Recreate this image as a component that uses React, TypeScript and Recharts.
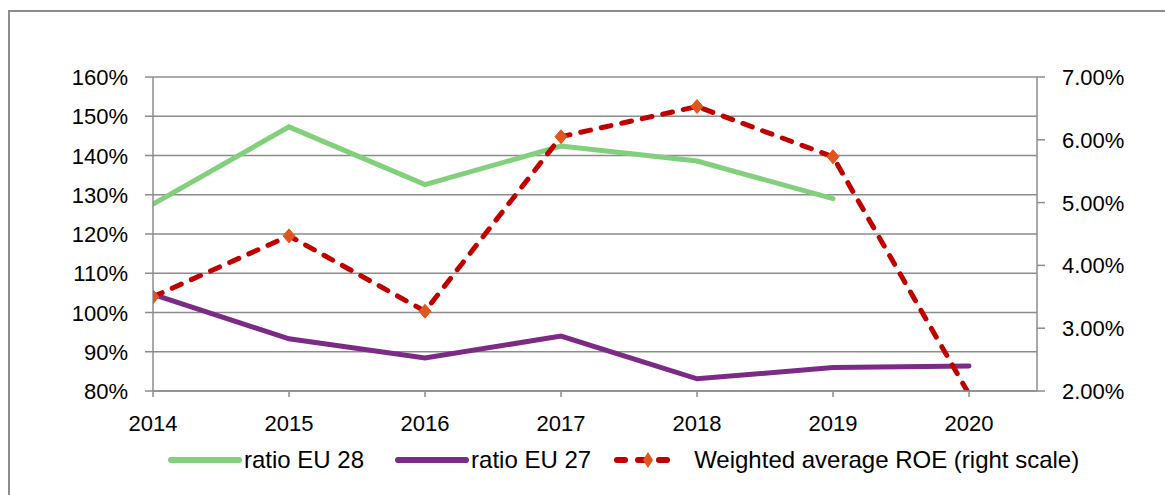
import React from 'react';
import { LineChart, Line, XAxis, YAxis, CartesianGrid } from 'recharts';

const years = [2014, 2015, 2016, 2017, 2018, 2019, 2020];
const ratioEU28 = [127.6, 147.3, 132.6, 142.4, 138.6, 129.0, null];
const ratioEU27 = [104.6, 93.3, 88.4, 94.0, 83.1, 86.0, 86.4];
const roe = [3.5, 4.47, 3.27, 6.05, 6.53, 5.73, 1.95];

const leftTicks = [80, 90, 100, 110, 120, 130, 140, 150, 160];
const rightTicks = [2, 3, 4, 5, 6, 7];

const data = years.map((year, i) => ({
  year,
  eu28: ratioEU28[i],
  eu27: ratioEU27[i],
  roe: roe[i],
}));

const GREEN = '#82CF7C';
const PURPLE = '#7B2A86';
const RED = '#C00000';
const ORANGE = '#E0561E';
const AXIS = '#8C8C8C';
const FONT = '"Liberation Sans", Arial, sans-serif';

const Diamond = (props: any) => {
  const { cx, cy, payload } = props;
  if (payload.roe < 2 || cx == null || cy == null) return null;
  return (
    <polygon
      points={`${cx},${cy - 7} ${cx + 6},${cy} ${cx},${cy + 7} ${cx - 6},${cy}`}
      fill={ORANGE}
      stroke={ORANGE}
      strokeWidth={1}
    />
  );
};

// custom tick so the font size is really applied
const makeTick = (anchor: 'start' | 'middle' | 'end', fmt: (v: number) => string, dy: number) => (props: any) => {
  const { x, y, payload } = props;
  return (
    <text x={x} y={y} dy={dy} textAnchor={anchor} fontSize={22} fontFamily={FONT} fill="#000">
      {fmt(payload.value)}
    </text>
  );
};

const XTick = makeTick('middle', (v) => String(v), 30);
const LeftTick = makeTick('end', (v) => `${v}%`, 8);
const RightTick = makeTick('start', (v) => `${v.toFixed(2)}%`, 8);

const LegendRow = () => (
  <div
    style={{
      position: 'absolute',
      top: 446,
      left: 167,
      display: 'flex',
      alignItems: 'center',
      fontFamily: FONT,
      fontSize: 24,
      color: '#000',
      whiteSpace: 'nowrap',
    }}
  >
    <svg width={76} height={10}>
      <line x1={4} y1={5} x2={72} y2={5} stroke={GREEN} strokeWidth={6} strokeLinecap="round" />
    </svg>
    <span style={{ marginLeft: 1, marginRight: 30 }}>ratio EU 28</span>
    <svg width={76} height={10}>
      <line x1={4} y1={5} x2={72} y2={5} stroke={PURPLE} strokeWidth={6} strokeLinecap="round" />
    </svg>
    <span style={{ marginLeft: 1, marginRight: 22 }}>ratio EU 27</span>
    <svg width={70} height={18}>
      <line x1={4} y1={9} x2={66} y2={9} stroke={RED} strokeWidth={6} strokeDasharray="8 13" strokeLinecap="round" />
      <polygon points="35,1 40,9 35,17 30,9" fill={ORANGE} />
    </svg>
    <span style={{ marginLeft: 11 }}>Weighted average ROE (right scale)</span>
  </div>
);

export default function App() {
  return (
    <div style={{ position: 'absolute', left: 0, top: 0, width: 1165, height: 495, background: '#fff', overflow: 'hidden' }}>
      <style>{`body{margin:0}`}</style>
      <div
        style={{
          position: 'absolute',
          left: 8,
          top: 10,
          width: 1200,
          height: 600,
          borderLeft: '2px solid #8C8C8C',
          borderTop: '2px solid #8C8C8C',
          boxSizing: 'border-box',
        }}
      />
      <div style={{ position: 'absolute', left: 0, top: 0 }}>
        <LineChart width={1165} height={495} data={data} margin={{ top: 77, right: 48, bottom: 74, left: 73 }}>
          <CartesianGrid vertical={false} stroke={AXIS} strokeWidth={1.5} yAxisId="left" />
          <XAxis
            dataKey="year"
            type="number"
            domain={[2014, 2020.5]}
            ticks={years}
            allowDataOverflow
            stroke={AXIS}
            strokeWidth={1.5}
            tickSize={6}
            tickMargin={4}
            height={30}
            tick={<XTick />}
          />
          <YAxis
            yAxisId="left"
            domain={[80, 160]}
            ticks={leftTicks}
            allowDataOverflow
            width={80}
            stroke={AXIS}
            strokeWidth={1.5}
            tickSize={8}
            tickMargin={17}
            tick={<LeftTick />}
          />
          <YAxis
            yAxisId="right"
            orientation="right"
            domain={[2, 7]}
            ticks={rightTicks}
            allowDataOverflow
            width={80}
            stroke={AXIS}
            strokeWidth={1.5}
            tickSize={8}
            tickMargin={17}
            tick={<RightTick />}
          />
          <Line
            yAxisId="left"
            dataKey="eu28"
            stroke={GREEN}
            strokeWidth={5}
            dot={false}
            activeDot={false}
            strokeLinecap="round"
            isAnimationActive={false}
          />
          <Line
            yAxisId="left"
            dataKey="eu27"
            stroke={PURPLE}
            strokeWidth={5}
            dot={false}
            activeDot={false}
            strokeLinecap="round"
            isAnimationActive={false}
          />
          <Line
            yAxisId="right"
            dataKey="roe"
            stroke={RED}
            strokeWidth={5}
            strokeDasharray="10 11"
            strokeLinecap="round"
            dot={<Diamond />}
            activeDot={false}
            isAnimationActive={false}
          />
        </LineChart>
      </div>
      <LegendRow />
    </div>
  );
}
